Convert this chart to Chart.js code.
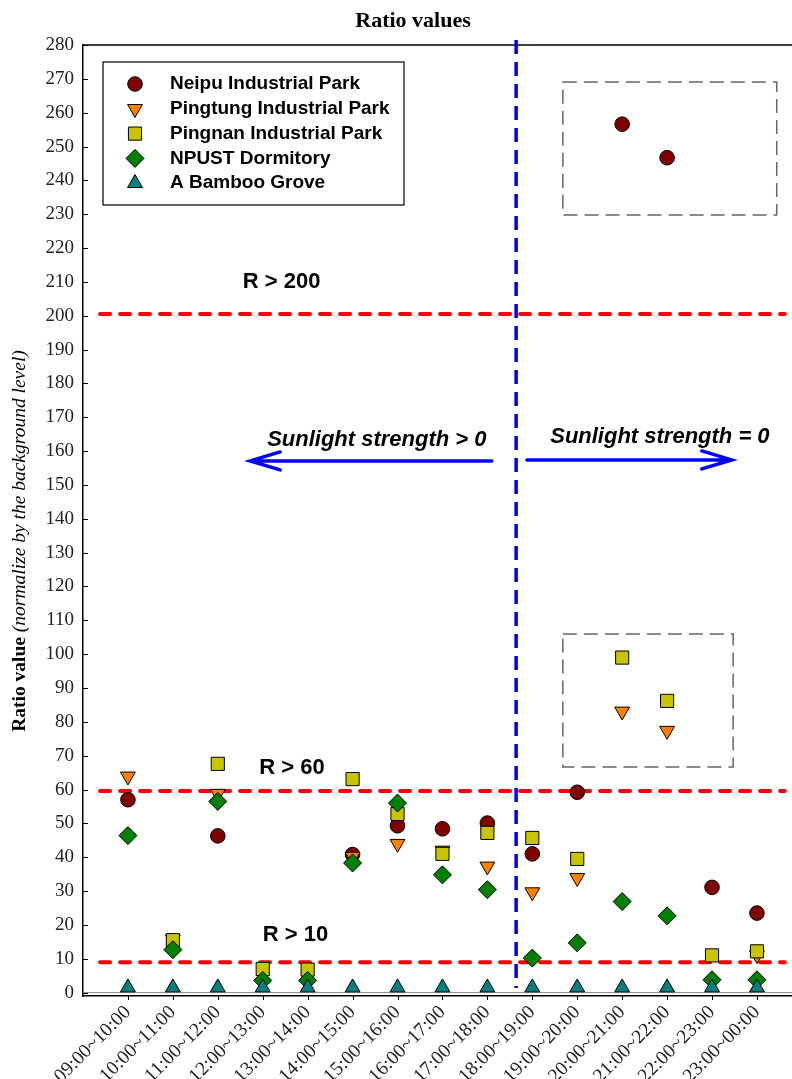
<!DOCTYPE html>
<html><head><meta charset="utf-8">
<script src="https://cdn.jsdelivr.net/npm/chart.js@4.4.0/dist/chart.umd.min.js"></script>
<style>html,body{margin:0;padding:0;background:#fff;}#wrap{width:792px;height:1079px;position:relative;}</style>
</head><body><div id="wrap"><canvas id="c" width="792" height="1079"></canvas></div>
<script>
const categories = ["09:00~10:00","10:00~11:00","11:00~12:00","12:00~13:00","13:00~14:00","14:00~15:00","15:00~16:00","16:00~17:00","17:00~18:00","18:00~19:00","19:00~20:00","20:00~21:00","21:00~22:00","22:00~23:00","23:00~00:00"];
const neipu    = [57.0, null, 46.3, null, null, 40.8, 49.3, 48.4, 50.1, 41.0, 59.2, 256.6, 246.7, 31.1, 23.5];
const pingtung = [63.9, 15.8, 58.8, null, null, 40.2, 44.0, 42.0, 37.3, 29.7, 33.9, 83.1, 77.4, null, 11.1];
const pingnan  = [null, 15.5, 67.6, 7.0, 6.8, 63.1, 52.8, 41.0, 47.2, 45.7, 39.5, 99.0, 86.2, 11.0, 12.2];
const npust    = [46.4, 12.7, 56.5, 3.6, 3.6, 38.3, 56.0, 34.8, 30.4, 10.2, 14.7, 26.9, 22.7, 3.8, 3.8];
const bamboo   = [1.5, 1.5, 1.5, 1.5, 1.5, 1.5, 1.5, 1.5, 1.5, 1.5, 1.5, 1.5, 1.5, 1.5, 1.5];
const seriesNames = ["Neipu Industrial Park","Pingtung Industrial Park","Pingnan Industrial Park","NPUST Dormitory","A Bamboo Grove"];
const yTicks = [0,10,20,30,40,50,60,70,80,90,100,110,120,130,140,150,160,170,180,190,200,210,220,230,240,250,260,270,280];
const thresholds = [200.5, 59.6, 9.0];
const thresholdLabels = ["R > 200","R > 60","R > 10"];
const thresholdLabelPos = [[3.42, 210], [3.65, 66.4], [3.73, 17.0]];
const sunDivider = 8.64;
const sunLabels = ["Sunlight strength > 0","Sunlight strength = 0"];
const highlightBoxes = [[9.68, 269.1, 14.44, 229.8],[9.68, 106.0, 13.47, 66.7]];

function pts(arr){ return arr.map((v,i)=> v===null ? null : {x:i, y:v}).filter(p=>p); }

const styles = [
  {pointStyle:'circle', bg:'rgb(128,0,0)', r:7.3, rot:0},
  {pointStyle:'triangle', bg:'rgb(255,128,0)', r:8.6, rot:180},
  {pointStyle:'rect', bg:'rgb(200,196,0)', r:9.3, rot:0},
  {pointStyle:'rectRot', bg:'rgb(0,128,0)', r:9, rot:0},
  {pointStyle:'triangle', bg:'rgb(0,128,128)', r:8.6, rot:0}
];
const allData = [neipu, pingtung, pingnan, npust, bamboo];
const datasets = allData.map((d,i)=>({
  label: seriesNames[i], data: pts(d), showLine:false,
  pointStyle: styles[i].pointStyle, pointRadius: styles[i].r, pointHoverRadius: styles[i].r,
  pointRotation: styles[i].rot, backgroundColor: styles[i].bg, borderColor:'#000', borderWidth:1,
  order: 5-i
}));

const deco = {
  id:'deco',
  beforeDatasetsDraw(chart){
    const ctx = chart.ctx, xs = chart.scales.x, ys = chart.scales.y, ca = chart.chartArea;
    ctx.save();
    ctx.strokeStyle='#000'; ctx.lineWidth=1.5;
    ctx.beginPath(); ctx.moveTo(ca.left, ca.top); ctx.lineTo(chart.width, ca.top); ctx.stroke();
    ctx.strokeStyle='#888'; ctx.lineWidth=1;
    ctx.beginPath(); ctx.moveTo(ca.left, ys.getPixelForValue(0)); ctx.lineTo(chart.width, ys.getPixelForValue(0)); ctx.stroke();
    ctx.strokeStyle='#000'; ctx.lineWidth=1;
    yTicks.forEach(v=>{ const p=Math.round(ys.getPixelForValue(v))+0.5; ctx.beginPath(); ctx.moveTo(ca.left, p); ctx.lineTo(ca.left+5, p); ctx.stroke(); });
    categories.forEach((c,i)=>{ const p=Math.round(xs.getPixelForValue(i))+0.5; ctx.beginPath(); ctx.moveTo(p, ca.bottom); ctx.lineTo(p, ca.bottom+4); ctx.stroke(); });
    ctx.strokeStyle='#666'; ctx.lineWidth=1.5; ctx.setLineDash([14,7]);
    highlightBoxes.forEach(b=>{
      const x1=xs.getPixelForValue(b[0]), y1=ys.getPixelForValue(b[1]), x2=xs.getPixelForValue(b[2]), y2=ys.getPixelForValue(b[3]);
      ctx.strokeRect(x1,y1,x2-x1,y2-y1);
    });
    ctx.strokeStyle='#ff0000'; ctx.lineWidth=4; ctx.lineCap='round'; ctx.setLineDash([10,10]);
    thresholds.forEach(t=>{ const p=ys.getPixelForValue(t); ctx.beginPath(); ctx.moveTo(xs.getPixelForValue(-0.62), p); ctx.lineTo(xs.getPixelForValue(14.62), p); ctx.stroke(); });
    ctx.strokeStyle='#0000ff'; ctx.lineWidth=3.5; ctx.lineCap='butt'; ctx.setLineDash([14,8]);
    const dx = xs.getPixelForValue(sunDivider);
    ctx.beginPath(); ctx.moveTo(dx, ys.getPixelForValue(281.5)); ctx.lineTo(dx, ys.getPixelForValue(1.4)); ctx.stroke();
    ctx.setLineDash([]);
    ctx.lineWidth=3.5; ctx.lineCap='round';
    const arrow=(x1,x2,yv)=>{ const a=xs.getPixelForValue(x1), b=xs.getPixelForValue(x2), y=ys.getPixelForValue(yv); const dir = b<a? 1 : -1;
      ctx.beginPath(); ctx.moveTo(a,y); ctx.lineTo(b,y); ctx.moveTo(b+dir*30,y-9); ctx.lineTo(b,y); ctx.lineTo(b+dir*30,y+9); ctx.stroke(); };
    arrow(8.10, 2.72, 157.1);
    arrow(8.88, 13.44, 157.4);
    ctx.fillStyle='#000'; ctx.textAlign='center'; ctx.textBaseline='middle';
    ctx.font="bold 22px 'Liberation Sans', Arial, sans-serif";
    thresholdLabels.forEach((t,i)=>{ ctx.fillText(t, xs.getPixelForValue(thresholdLabelPos[i][0]), ys.getPixelForValue(thresholdLabelPos[i][1])); });
    ctx.font="italic bold 22px 'Liberation Sans', Arial, sans-serif";
    ctx.fillText(sunLabels[0], xs.getPixelForValue(5.54), ys.getPixelForValue(163.3));
    ctx.fillText(sunLabels[1], xs.getPixelForValue(11.84), ys.getPixelForValue(164.2));
    ctx.restore();
  },
  afterDraw(chart){
    const ctx = chart.ctx, ca = chart.chartArea;
    ctx.save();
    ctx.fillStyle='#000'; ctx.textAlign='center'; ctx.textBaseline='middle';
    ctx.font="bold 22px 'Liberation Serif', 'Times New Roman', serif";
    ctx.fillText('Ratio values', 413, 21);
    ctx.translate(20, 541); ctx.rotate(-Math.PI/2);
    const p1='Ratio value ', p2='(normalize by the background level)';
    const f1="bold 19.5px 'Liberation Serif', serif", f2="italic 19.5px 'Liberation Serif', serif";
    ctx.font=f1; const w1=ctx.measureText(p1).width; ctx.font=f2; const w2=ctx.measureText(p2).width;
    ctx.textAlign='left';
    ctx.font=f1; ctx.fillText(p1, -(w1+w2)/2, 0);
    ctx.font=f2; ctx.fillText(p2, -(w1+w2)/2 + w1, 0);
    ctx.restore();
    ctx.save();
    const lx = ca.left+20, ly = ca.top+17;
    ctx.strokeStyle='#000'; ctx.lineWidth=1.2;
    ctx.strokeRect(lx, ly, 301, 143);
    ctx.font="bold 19px 'Liberation Sans', Arial, sans-serif"; ctx.textAlign='left'; ctx.textBaseline='middle';
    chart.data.datasets.forEach((ds,i)=>{
      const y = ly + 22 + i*24.8;
      ctx.fillStyle = ds.backgroundColor; ctx.strokeStyle='#000'; ctx.lineWidth=1;
      Chart.helpers.drawPoint(ctx, {pointStyle: ds.pointStyle, rotation: ds.pointRotation, radius: ds.pointRadius, borderWidth:1}, lx+32, y);
      ctx.fillStyle='#000';
      ctx.fillText(ds.label, lx+67, y);
    });
    ctx.restore();
  }
};

new Chart(document.getElementById('c'), {
  type:'scatter',
  data:{datasets},
  options:{
    responsive:false, animation:false, devicePixelRatio:1,
    layout:{autoPadding:false, padding:{top:45,left:0,right:0,bottom:0}},
    plugins:{legend:{display:false}, tooltip:{enabled:false}, title:{display:false}},
    scales:{
      x:{type:'linear', min:-1, max:14.78,
        afterBuildTicks:(s)=>{ s.ticks = categories.map((c,i)=>({value:i})); },
        afterFit:(s)=>{ s.height = 83; s.paddingLeft = 0; s.paddingRight = 0; },
        grid:{display:false, drawTicks:false}, border:{display:true, color:'#000', width:1.5},
        ticks:{autoSkip:false, maxRotation:45, minRotation:45, padding:5, color:'#222',
          font:{family:"'Liberation Serif', 'Times New Roman', serif", size:19.5},
          callback:(v)=> categories[v] ?? ''}
      },
      y:{type:'linear', min:-1, max:280,
        afterBuildTicks:(s)=>{ s.ticks = yTicks.map(v=>({value:v})); },
        afterFit:(s)=>{ s.width = 83; s.paddingTop = 0; s.paddingBottom = 0; },
        grid:{display:false, drawTicks:false}, border:{display:true, color:'#000', width:1.5},
        ticks:{padding:9, color:'#222', font:{family:"'Liberation Serif', 'Times New Roman', serif", size:19}}
      }
    }
  },
  plugins:[deco]
});
</script></body></html>
